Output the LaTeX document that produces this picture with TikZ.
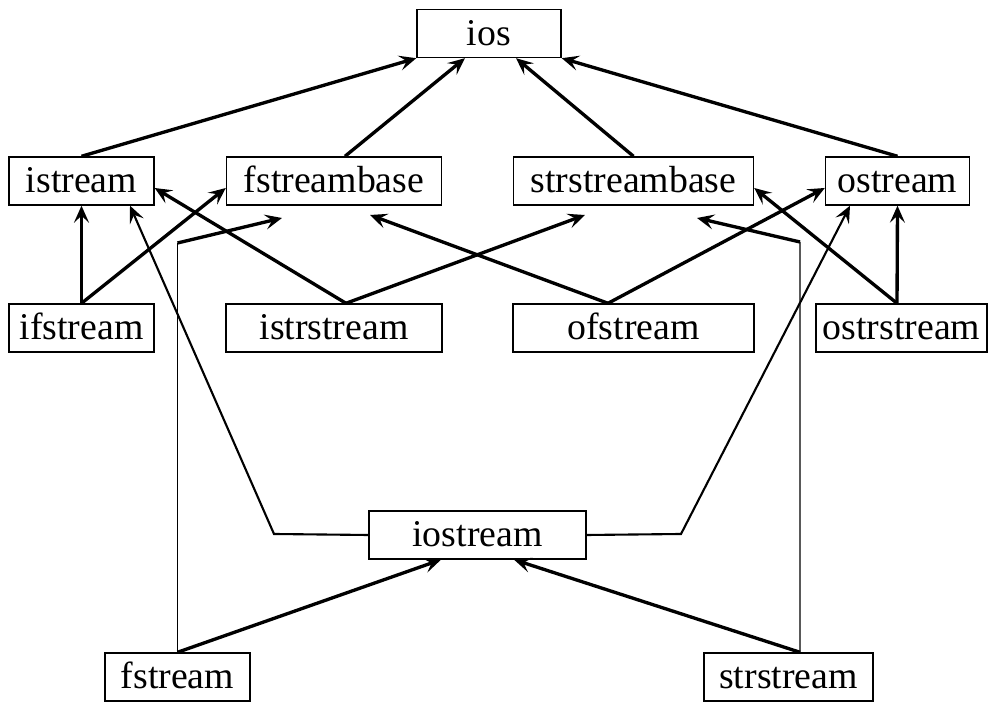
\documentclass[tikz,border=0pt]{standalone}
\usepackage{fontspec}
\setmainfont{Liberation Serif}
\usetikzlibrary{arrows.meta}

\tikzset{
  cls/.style={draw, line width=0.8pt, minimum height=0.96cm, inner sep=0pt, text height=0.5cm, text depth=0.02cm, font=\fontsize{21.5}{24}\selectfont},
  tip/.style={-{Stealth[length=0.34cm,width=0.3cm,inset=0.14cm]}},
  inh/.style={line width=1.9pt, tip},
  via/.style={line width=1.2pt},
  thinl/.style={line width=0.6pt}
}

\begin{document}
\begin{tikzpicture}
\useasboundingbox (0,0) rectangle (19.84,14.04);

\node[cls,minimum width=2.88cm] (ios) at (9.78,13.37) {ios};

\node[cls,minimum width=2.9cm]  (istream)       at (1.63,10.42)  {istream};
\node[cls,minimum width=4.3cm]  (fstreambase)   at (6.68,10.42)  {fstreambase};
\node[cls,minimum width=4.8cm]  (strstreambase) at (12.67,10.42) {strstreambase};
\node[cls,minimum width=2.88cm] (ostream)       at (17.95,10.42) {ostream};

\node[cls,minimum width=2.9cm]  (ifstream)   at (1.63,7.48)  {ifstream};
\node[cls,minimum width=4.32cm] (istrstream) at (6.68,7.48)  {istrstream};
\node[cls,minimum width=4.82cm] (ofstream)   at (12.67,7.48) {ofstream};
\node[cls,minimum width=3.42cm] (ostrstream) at (18.03,7.48) {ostrstream};

\node[cls,minimum width=4.34cm] (iostream)  at (9.55,3.34) {iostream};
\node[cls,minimum width=2.9cm]  (fstream)   at (3.55,0.5)  {fstream};
\node[cls,minimum width=3.38cm] (strstream) at (15.77,0.5) {strstream};

\coordinate (ssbin)  at (11.70,9.74);
\coordinate (fsbin)  at (7.40,9.74);
\coordinate (fsup)   at (3.55,9.18);
\coordinate (fsbtip) at (5.64,9.68);
\coordinate (ssup)   at (16.0,9.2);
\coordinate (ssbtip) at (13.94,9.68);
\coordinate (iol)    at (5.48,3.36);
\coordinate (ior)    at (13.62,3.36);

%to ios
\draw[inh] (istream.north) -- (ios.south west);
\draw[inh] ([xshift=0.22cm]fstreambase.north) -- ([xshift=-0.48cm]ios.south);
\draw[inh] (strstreambase.north) -- ([xshift=0.54cm]ios.south);
\draw[inh] (ostream.north) -- (ios.south east);

%second row
\draw[inh] (ifstream.north) -- (istream.south);
\draw[inh] (ifstream.north) -- ([yshift=-0.14cm]fstreambase.west);
\draw[inh] ([xshift=0.24cm]istrstream.north) -- ([yshift=-0.14cm]istream.east);
\draw[inh] ([xshift=0.24cm]istrstream.north) -- (ssbin);
\draw[inh] ([xshift=-0.51cm]ofstream.north) -- (fsbin);
\draw[inh] ([xshift=-0.51cm]ofstream.north) -- ([yshift=-0.14cm]ostream.west);
\draw[inh] ([xshift=-0.09cm]ostrstream.north) -- (ostream.south);
\draw[inh] ([xshift=-0.09cm]ostrstream.north) -- ([yshift=-0.14cm]strstreambase.east);

%iostream
\draw[via,tip] (iostream.west) -- (iol) -- ([xshift=0.97cm]istream.south);
\draw[via,tip] (iostream.east) -- (ior) -- ([xshift=-0.95cm]ostream.south);

%bottom row
\draw[inh] (fstream.north) -- ([xshift=-0.73cm]iostream.south);
\draw[inh] ([xshift=0.23cm]strstream.north) -- ([xshift=0.73cm]iostream.south);
\draw[thinl] (fstream.north) -- (fsup);
\draw[inh] (fsup) -- (fsbtip);
\draw[thinl] ([xshift=0.23cm]strstream.north) -- (ssup);
\draw[inh] (ssup) -- (ssbtip);

\end{tikzpicture}
\end{document}
